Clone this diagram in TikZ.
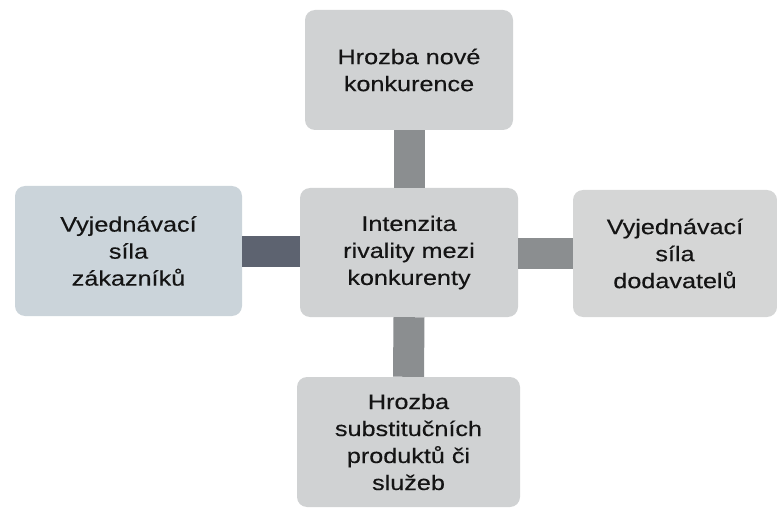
\documentclass[tikz,border=0pt]{standalone}
\usepackage{fontspec}
\setmainfont[FakeStretch=1.2,FakeBold=0.35]{Liberation Sans}
\usepackage{tikz}
\usetikzlibrary{calc}
\definecolor{boxgray}{rgb}{0.815,0.823,0.828}
\definecolor{boxblue}{rgb}{0.795,0.830,0.855}
\definecolor{boxlight}{rgb}{0.835,0.840,0.840}
\definecolor{linkgray}{rgb}{0.545,0.555,0.565}
\definecolor{linkdark}{rgb}{0.365,0.388,0.438}
\definecolor{inkblack}{rgb}{0.08,0.08,0.08}
\tikzstyle{every node}=[font=\fontsize{21}{27}\selectfont]
\tikzset{force/.style={rounded corners=10pt,inner sep=0pt,align=center,text=inkblack},
  link/.style={line width=31pt,line cap=butt}}

\begin{document}
\begin{tikzpicture}[line join=round,x=1pt,y=-1pt]
            \useasboundingbox (0,0) rectangle (777,508);
            \node[force,fill=boxgray,minimum width=208pt,minimum height=120pt] (entry) at (409,70) {Hrozba nové\\konkurence};
            \node[force,fill=boxgray,minimum width=218pt,minimum height=129pt] (rivalry) at (409,252.5) {Intenzita\\rivality mezi\\konkurenty};
            \node[force,fill=boxblue,minimum width=227pt,minimum height=130pt] (buyers) at (128.5,251) {Vyjednávací\\síla\\zákazníků};
            \node[force,fill=boxlight,minimum width=204pt,minimum height=127pt] (suppliers) at (675,253.5) {Vyjednávací\\síla\\dodavatelů};
            \node[force,fill=boxgray,minimum width=223pt,minimum height=130pt] (substitutes) at (408.5,442) {Hrozba\\substitučních\\produktů či\\služeb};
            \draw [link,color=linkgray] (entry.south) -- (rivalry.north);
            \draw [link,color=linkdark] (buyers.east) -- (buyers.east -| rivalry.west);
            \draw [link,color=linkgray] (suppliers.west) -- (suppliers.west -| rivalry.east);
            \draw [link,color=linkgray] (substitutes.north) -- (rivalry.south);
        \end{tikzpicture}
\end{document}
